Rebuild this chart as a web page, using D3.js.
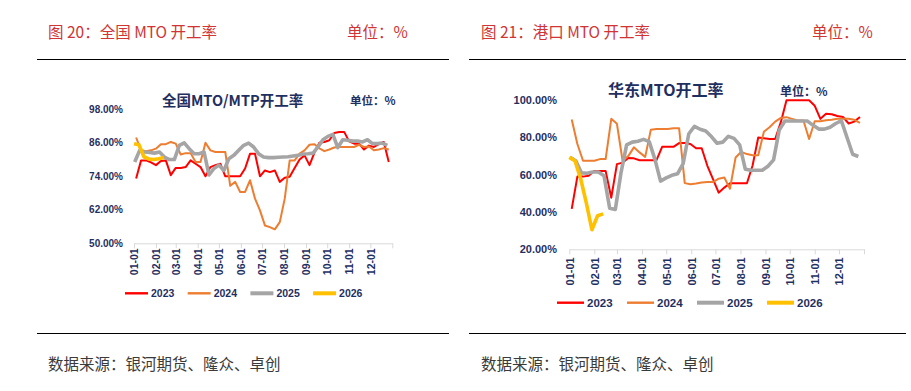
<!DOCTYPE html>
<html><head><meta charset="utf-8">
<script src="https://cdn.jsdelivr.net/npm/d3@7"></script>
<style>body{margin:0;background:#fff}</style>
</head><body><svg id="c" width="911" height="391"></svg>
<script>
// ---------- data ----------
const seriesNames = ["2023", "2024", "2025", "2026"];
const startDays = [3, 3, 1, 0]; // day-of-year of each series' first weekly reading
const monthTicks = ["01-01","02-01","03-01","04-01","05-01","06-01","07-01","08-01","09-01","10-01","11-01","12-01"];
const nationalYTicks = [50, 62, 74, 86, 98];
const eastYTicks = [20, 40, 60, 80, 100];

const nat2023 = [73.2,79.7,79.7,79,78,79.5,79.7,74.4,77,77,77.3,79.7,78.5,77.3,74,77.3,78,78.5,74,74,74,74,76.8,82.1,82.1,74,76.1,75.5,76.1,72,73.5,73.8,77,80,81.5,78,82.5,86,86.3,86.9,89.5,89.9,89.9,86.5,85.7,85.7,83.6,85,84.5,85.5,86.3,79.1];
const nat2024 = [87.9,83.3,83,83.3,83.9,85.5,85.5,86.3,85.7,81.8,82.3,82.3,79.1,79.1,86,83.3,82.7,82.7,82.7,70.6,72,68.4,68.4,72.6,66,61.8,56.4,55.8,55,57.6,66,79.7,79.7,82.1,83.3,85.3,85.5,84,83,83.6,84.3,84.5,84.5,84.5,84.5,85.3,84.5,84.7,83.3,83.6,84.1,83.6];
const nat2025 = [79.1,83.3,82.7,82.5,82.3,82.7,80.9,80,80,85.1,86,83.9,82.1,82.1,82.7,74.5,76.8,78,76.1,80.3,81.5,83.3,85.1,85.9,84.5,82.1,80.9,80.7,80.7,80.8,80.9,81,81.3,81.5,82,82.1,82.3,84.5,87.1,88.3,89,84.3,87.1,86.9,86.6,86.6,86.3,87.1,85.7,85.7,85.9,85.1];
const nat2026 = [85.7,85.3,81,80.2,80,80.3,80.7];

const east2023 = [41.7,59,59,59.5,62,62,62,47.7,65.7,66.5,69,68.8,67.8,67.8,67.8,67.8,75,75,75,77,77,76.5,74.2,74.2,64.8,57.6,50.4,53.1,55.4,55.4,55.4,55.4,65,80,79.6,79.2,79.2,88.2,100,100,100,100,100,97,90,92.7,92.5,91.5,91,87.5,88.5,91];
const east2024 = [89.6,76.5,67.5,67.5,67.5,68.4,68.4,90,87.3,67.5,70,74.7,72,69.6,84.2,84.6,84.6,84.6,85,85,55.5,54.9,55.3,55.8,56.1,56.1,57.9,58.5,52.5,69.3,72.3,71.1,70.5,70.5,83.1,85.5,88.5,90.5,90.9,90,89.1,89.1,79.2,88.7,88.7,89.2,89.5,90,90,90,89.5,87.8];
const east2025 = [69.3,67.5,61,60.8,61.5,61.5,59.5,42,41.4,61,76,77.5,78,79,77.8,68.4,56.6,58.3,59.7,60.5,66,82,86,84.4,83.5,80.5,76.9,77.5,80.6,79.5,76,63,62.4,62.4,62.4,64.6,68,84,88.8,88.8,88.8,88.8,88.8,86.5,84.5,84.5,85.5,87.5,89,80,71,69.8];
const east2026 = [69.3,67.5,58,45,30.5,38,39];

// ---------- styles ----------
const lineColors = ["#ff0000", "#ed7d31", "#a5a5a5", "#ffc000"];
const lineWidths = [2, 2, 3.6, 3.6];
const navy = "#1f2f5f";
const titleRed = "#d03434";
const cjk = "'Noto Sans CJK SC','Noto Sans',sans-serif";
const num = "'Liberation Sans',Arial,sans-serif";

const svg = d3.select("#c");
const YEAR = 2023;
const dayDate = d => new Date(YEAR, 0, 1 + d);
const parseTick = t => d3.timeParse("%Y-%m-%d")(YEAR + "-" + t);

function panel(cfg) {
  const g = svg.append("g");
  // header
  g.append("text").attr("x", cfg.titleX).attr("y", 38).text(cfg.title)
    .attr("fill", titleRed).style("font-family", cjk).style("font-size", "15.5px");
  g.append("text").attr("x", cfg.unitX).attr("y", 38).text("单位：%")
    .attr("fill", titleRed).style("font-family", cjk).style("font-size", "15.5px");
  g.append("line").attr("x1", cfg.ruleX[0]).attr("x2", cfg.ruleX[1]).attr("y1", 59.5).attr("y2", 59.5)
    .attr("stroke", "#000").attr("stroke-width", 1);
  g.append("line").attr("x1", cfg.ruleX[0]).attr("x2", cfg.ruleX[1]).attr("y1", 333.5).attr("y2", 333.5)
    .attr("stroke", "#000").attr("stroke-width", 1);
  g.append("text").attr("x", cfg.titleX).attr("y", 370).text("数据来源：银河期货、隆众、卓创")
    .attr("fill", "#3a3a3a").style("font-family", cjk).style("font-size", "15.5px");

  // inner titles
  g.append("text").attr("x", cfg.innerX).attr("y", cfg.innerY).text(cfg.inner)
    .attr("fill", navy).style("font-family", cjk).style("font-weight", "bold").style("font-size", cfg.innerSize + "px");
  g.append("text").attr("x", cfg.innerUnitX).attr("y", cfg.innerUnitY).text("单位：%")
    .attr("fill", navy).style("font-family", cjk).style("font-weight", "bold").style("font-size", cfg.unitSize + "px");

  const x = d3.scaleTime().domain([new Date(YEAR, 0, 1), new Date(YEAR + 1, 0, 1)]).range(cfg.xRange);
  const y = d3.scaleLinear().domain(d3.extent(cfg.yTicks)).range(cfg.yRange);

  // y labels
  g.selectAll(".yl").data(cfg.yTicks).join("text")
    .attr("x", cfg.yLabelX).attr("y", d => y(d)).attr("dy", "0.35em")
    .attr("text-anchor", "end").text(d => d3.format(".2f")(d) + "%")
    .attr("fill", navy).style("font-family", num).style("font-weight", "bold").style("font-size", cfg.yFont + "px");

  // x axis
  const tickDates = monthTicks.map(parseTick).concat([new Date(YEAR + 1, 0, 1)]);
  const ax = g.append("g").attr("transform", `translate(0,${cfg.yRange[0]})`)
    .call(d3.axisBottom(x).tickValues(tickDates).tickSize(5).tickSizeOuter(0)
      .tickFormat((d, i) => i < monthTicks.length ? monthTicks[i] : ""));
  ax.select(".domain").attr("stroke", "#d9d9d9");
  ax.selectAll(".tick line").attr("stroke", "#d9d9d9");
  ax.selectAll(".tick text").attr("transform", "rotate(-90)").attr("x", -cfg.xLabelGap).attr("y", 0)
    .attr("dy", "0.35em").style("text-anchor", "end")
    .attr("fill", navy).style("font-family", num).style("font-weight", "bold").style("font-size", cfg.xFont + "px");

  // lines
  const line = d3.line().x(d => x(d[0])).y(d => y(d[1]));
  cfg.series.forEach((vals, si) => {
    const pts = vals.map((v, i) => [dayDate(startDays[si] + 7 * i), v]);
    g.append("path").datum(pts).attr("d", line).attr("fill", "none")
      .attr("stroke", lineColors[si]).attr("stroke-width", lineWidths[si]).attr("stroke-linejoin", "round");
  });

  // legend
  seriesNames.forEach((name, si) => {
    const lx = cfg.legendX + si * cfg.legendStep;
    g.append("line").attr("x1", lx).attr("x2", lx + cfg.legendLen).attr("y1", cfg.legendY).attr("y2", cfg.legendY)
      .attr("stroke", lineColors[si]).attr("stroke-width", lineWidths[si] + 0.4);
    g.append("text").attr("x", lx + cfg.legendLen + 3).attr("y", cfg.legendY).attr("dy", "0.35em").text(name)
      .attr("fill", navy).style("font-family", num).style("font-weight", "bold").style("font-size", cfg.legendFont + "px");
  });
}

panel({
  title: "图 20：全国 MTO 开工率", titleX: 48, unitX: 347, ruleX: [37, 449],
  inner: "全国MTO/MTP开工率", innerX: 162, innerY: 106, innerSize: 14.5,
  innerUnitX: 350, innerUnitY: 105, unitSize: 11.5,
  xRange: [134, 392.3], yRange: [243.3, 109.3], yTicks: nationalYTicks, yLabelX: 123, yFont: 10,
  xLabelGap: 5, xFont: 10.5,
  series: [nat2023, nat2024, nat2025, nat2026],
  legendX: 125, legendStep: 62.7, legendLen: 23, legendY: 293.3, legendFont: 10.5
});
panel({
  title: "图 21：港口 MTO 开工率", titleX: 481, unitX: 812, ruleX: [469, 906],
  inner: "华东MTO开工率", innerX: 608, innerY: 96, innerSize: 16,
  innerUnitX: 780, innerUnitY: 96, unitSize: 12,
  xRange: [569.3, 864], yRange: [249.3, 100.2], yTicks: eastYTicks, yLabelX: 557, yFont: 11,
  xLabelGap: 8, xFont: 11,
  series: [east2023, east2024, east2025, east2026],
  legendX: 557, legendStep: 70, legendLen: 27, legendY: 302.7, legendFont: 11.5
});
</script></body></html>
